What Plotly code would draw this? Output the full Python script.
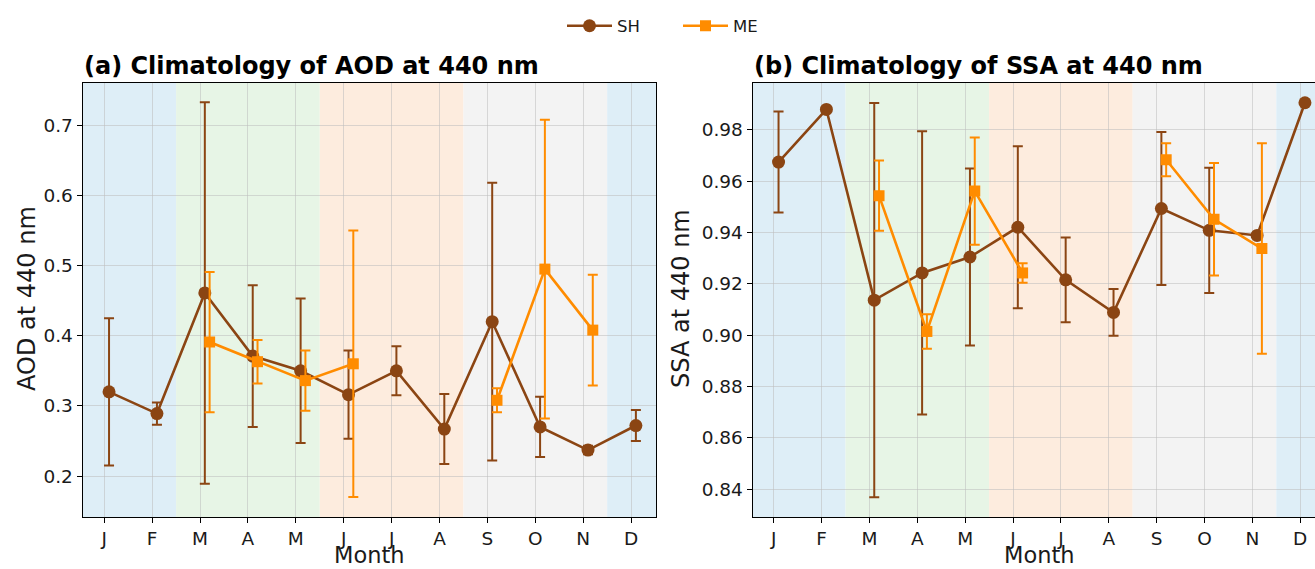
import plotly.graph_objects as go

# ---------------- data ----------------
months = ["J", "F", "M", "A", "M", "J", "J", "A", "S", "O", "N", "D"]
month_idx = list(range(12))

aod_sh = [0.320, 0.289, 0.461, 0.371, 0.350, 0.316, 0.350, 0.267, 0.420, 0.270, 0.237, 0.272]
aod_sh_err = [0.105, 0.016, 0.272, 0.101, 0.103, 0.063, 0.035, 0.050, 0.198, 0.043, 0.006, 0.022]
aod_me = [None, None, 0.391, 0.363, 0.336, 0.360, None, None, 0.308, 0.495, 0.408, None]
aod_me_err = [0, 0, 0.100, 0.031, 0.043, 0.190, 0, 0, 0.017, 0.213, 0.079, 0]

ssa_sh = [0.9674, 0.9879, 0.9136, 0.9242, 0.9304, 0.9420, 0.9215, 0.9088, 0.9493, 0.9408, 0.9388, 0.9905]
ssa_sh_err = [0.0197, 0.0, 0.0768, 0.0552, 0.0345, 0.0316, 0.0165, 0.0091, 0.0298, 0.0244, 0.0, 0.0]
ssa_me = [None, None, 0.9543, 0.9014, 0.9561, 0.9242, None, None, 0.9683, 0.9451, 0.9337, None]
ssa_me_err = [0, 0, 0.0137, 0.0067, 0.0209, 0.0038, 0, 0, 0.0064, 0.0219, 0.041, 0]

# season boundaries (month index) and fills: DJF, MAM, JJA, SON, DJF
season_edges = [1.5, 4.5, 7.5, 10.5]
season_colors = ["#deeef7", "#e7f5e6", "#fdecde", "#f3f3f3", "#deeef7"]

sh_offset = 0.1
me_offset = 0.2

SH_COLOR = "#8B4513"
ME_COLOR = "#FF8C00"

W, H = 1315, 569
FONT = "DejaVu Sans"

# ---------------- figure ----------------
fig = go.Figure()

x_sh = [m + sh_offset for m in month_idx]
x_me = [m + me_offset for m in month_idx]


def add_series(xa, ya, x, y, err, color, symbol, size, name, show):
    fig.add_trace(go.Scatter(
        x=x, y=y, xaxis=xa, yaxis=ya, name=name, showlegend=show,
        legendgroup=name,
        mode="lines+markers",
        line=dict(color=color, width=2.6),
        marker=dict(color=color, symbol=symbol, size=size),
        error_y=dict(type="data", array=err, visible=True, color=color,
                     thickness=2, width=5),
        connectgaps=False,
    ))


add_series("x", "y", x_sh, aod_sh, aod_sh_err, SH_COLOR, "circle", 13, "SH", True)
add_series("x", "y", x_me, aod_me, aod_me_err, ME_COLOR, "square", 11, "ME", True)
add_series("x2", "y2", x_sh, ssa_sh, ssa_sh_err, SH_COLOR, "circle", 13, "SH", False)
add_series("x2", "y2", x_me, ssa_me, ssa_me_err, ME_COLOR, "square", 11, "ME", False)

xr_a = [-0.45, 11.52]
xr_b = [-0.44, 11.31]
yr_a = [0.1416, 0.761]
yr_b = [0.8291, 0.9984]

# season shading
for xref, yref, xr in (("x", "y domain", xr_a), ("x2", "y2 domain", xr_b)):
    edges = [xr[0]] + season_edges + [xr[1]]
    for i in range(len(edges) - 1):
        fig.add_shape(type="rect", xref=xref, yref=yref,
                      x0=edges[i], x1=edges[i + 1], y0=0, y1=1,
                      fillcolor=season_colors[i], line=dict(width=0),
                      layer="below")

ydom = [(H - 517) / H, (H - 82.5) / H]
xdom_a = [82.7 / W, 656 / W]
xdom_b = [752.7 / W, 1.0]

grid = "rgba(190,190,190,0.55)"
tickfont = dict(family=FONT, size=18.5, color="#1a1a1a")

common_x = dict(tickmode="array", tickvals=month_idx, ticktext=months,
                showgrid=True, gridcolor=grid, gridwidth=1,
                ticks="outside", ticklen=5, tickwidth=1.2, tickcolor="black",
                showline=True, linecolor="black", linewidth=1.2, mirror=True,
                zeroline=False, tickfont=tickfont, fixedrange=True)
common_y = dict(showgrid=True, gridcolor=grid, gridwidth=1,
                ticks="outside", ticklen=5, tickwidth=1.2, tickcolor="black",
                showline=True, linecolor="black", linewidth=1.2,
                zeroline=False, tickfont=tickfont, fixedrange=True)

fig.update_layout(
    width=W, height=H,
    margin=dict(l=0, r=0, t=0, b=0),
    paper_bgcolor="white", plot_bgcolor="white",
    font=dict(family=FONT, color="#1a1a1a"),
    xaxis=dict(domain=xdom_a, range=xr_a, anchor="y", **common_x),
    yaxis=dict(domain=ydom, range=yr_a, anchor="x", mirror=True,
               tickvals=[0.2, 0.3, 0.4, 0.5, 0.6, 0.7], tickformat=".1f",
               **common_y),
    xaxis2=dict(domain=xdom_b, range=xr_b, anchor="y2", **common_x),
    yaxis2=dict(domain=ydom, range=yr_b, anchor="x2", mirror=False,
                tickvals=[0.84, 0.86, 0.88, 0.90, 0.92, 0.94, 0.96, 0.98],
                tickformat=".2f", **common_y),
    legend=dict(orientation="h", x=562 / W, xanchor="left",
                y=(H - 26) / H, yanchor="middle",
                font=dict(family=FONT, size=16.5, color="#1a1a1a"),
                bgcolor="rgba(0,0,0,0)", itemwidth=45,
                entrywidth=56, entrywidthmode="pixels"),
    showlegend=True,
)

ann = []
# panel titles
ann.append(dict(text="<b>(a) Climatology of AOD at 440 nm</b>", xref="paper", yref="paper",
                x=82 / W, y=(H - 66) / H, xanchor="left", yanchor="middle",
                showarrow=False, font=dict(family=FONT, size=24, color="black")))
ann.append(dict(text="<b>(b) Climatology of SSA at 440 nm</b>", xref="paper", yref="paper",
                x=752 / W, y=(H - 66) / H, xanchor="left", yanchor="middle",
                showarrow=False, font=dict(family=FONT, size=24, color="black")))
# axis titles
ann.append(dict(text="Month", xref="paper", yref="paper", x=(82.7 + 656) / 2 / W,
                y=0, xanchor="center", yanchor="bottom", showarrow=False,
                font=dict(family=FONT, size=22.5, color="#1a1a1a"),
                borderpad=0))
ann.append(dict(text="Month", xref="paper", yref="paper", x=(752.7 + 1326) / 2 / W,
                y=0, xanchor="center", yanchor="bottom", showarrow=False,
                font=dict(family=FONT, size=22.5, color="#1a1a1a"),
                borderpad=0))
ann.append(dict(text="AOD at 440 nm", xref="paper", yref="paper", x=27 / W,
                y=(H - 299) / H, xanchor="center", yanchor="middle", textangle=-90,
                showarrow=False, font=dict(family=FONT, size=24, color="#1a1a1a")))
ann.append(dict(text="SSA at 440 nm", xref="paper", yref="paper", x=681 / W,
                y=(H - 299) / H, xanchor="center", yanchor="middle", textangle=-90,
                showarrow=False, font=dict(family=FONT, size=24, color="#1a1a1a")))
fig.update_layout(annotations=ann)

fig.write_html("out.html")
